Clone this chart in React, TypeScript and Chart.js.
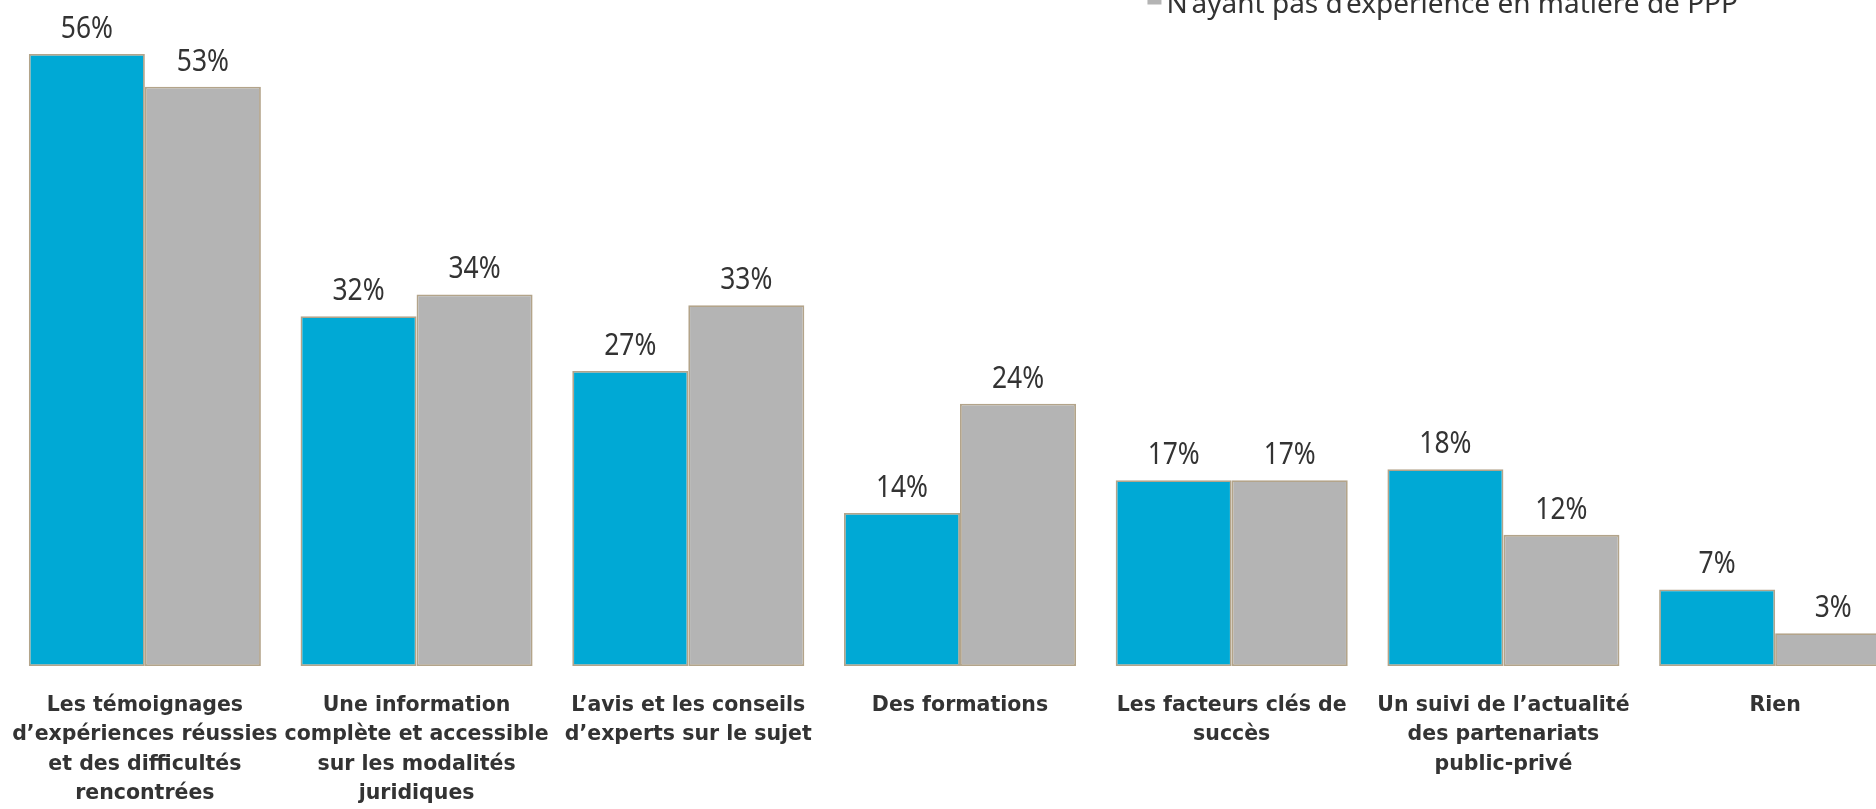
import React, { useEffect, useRef } from "react";
import { Chart, registerables } from "chart.js";

Chart.register(...registerables);

const categories: (string | string[])[] = [
  ["Les témoignages", "d’expériences réussies", "et des difficultés", "rencontrées"],
  ["Une information", "complète et accessible", "sur les modalités", "juridiques"],
  ["L’avis et les conseils", "d’experts sur le sujet"],
  "Des formations",
  ["Les facteurs clés de", "succès"],
  ["Un suivi de l’actualité", "des partenariats", "public-privé"],
  "Rien",
];
const seriesNames = [
  "Ayant une expérience en matière de PPP",
  "N’ayant pas d’expérience en matière de PPP",
];
const withExperience = [56, 32, 27, 14, 17, 18, 7];
const withoutExperience = [53, 34, 33, 24, 17, 12, 3];

const OFF = 60;
const W = 1940;
const H = 869;
const PX_PER_PCT = 10.93;
const Y_MAX = 60;
const BASE = 666;

const valueLabels = {
  id: "valueLabels",
  afterDatasetsDraw(chart: any) {
    const ctx = chart.ctx;
    chart.data.datasets.forEach((ds: any, i: number) => {
      chart.getDatasetMeta(i).data.forEach((bar: any, j: number) => {
        ctx.save();
        ctx.font = '30px "Noto Sans"';
        ctx.fillStyle = "#333333";
        ctx.textAlign = "center";
        ctx.textBaseline = "alphabetic";
        ctx.translate(bar.x, bar.y - 16);
        ctx.scale(0.88, 1);
        ctx.fillText(ds.data[j] + "%", 0, 0);
        ctx.restore();
      });
    });
  },
};

const customLegend = {
  id: "customLegend",
  afterDraw(chart: any) {
    const ctx = chart.ctx;
    ctx.save();
    ctx.font = '28px "Noto Sans"';
    ctx.textBaseline = "alphabetic";
    ctx.textAlign = "left";
    const lastText = chart.data.datasets[1].label;
    const w = ctx.measureText(lastText).width;
    const textX = 1738 - w;
    const ds = chart.data.datasets;
    ds.forEach((d: any, i: number) => {
      const baseline = OFF + 12.5 - (ds.length - 1 - i) * 38;
      ctx.fillStyle = d.backgroundColor;
      ctx.fillRect(textX - 19, baseline - 22, 14, 14);
      ctx.fillStyle = "#333333";
      ctx.fillText(d.label, textX, baseline);
    });
    ctx.restore();
  },
};

export default function App() {
  const ref = useRef<HTMLCanvasElement>(null);
  useEffect(() => {
    if (!ref.current) return;
    const chart = new Chart(ref.current, {
      type: "bar",
      data: {
        labels: categories,
        datasets: [
          {
            label: seriesNames[0],
            data: withExperience,
            backgroundColor: "#00A9D5",
            borderColor: "#B3A48A",
            borderWidth: 1.8,
            borderSkipped: false,
          },
          {
            label: seriesNames[1],
            data: withoutExperience,
            backgroundColor: "#B4B4B4",
            borderColor: "#B3A48A",
            borderWidth: 1.8,
            borderSkipped: false,
          },
        ],
      },
      options: {
        responsive: false,
        animation: false,
        devicePixelRatio: 1,
        layout: {
          padding: {
            left: 9,
            right: W - 1911,
            top: OFF + BASE - Y_MAX * PX_PER_PCT,
            bottom: 0,
          },
        },
        plugins: {
          legend: { display: false },
          tooltip: { enabled: false },
        },
        datasets: {
          bar: { categoryPercentage: 0.854, barPercentage: 1 },
        },
        scales: {
          y: { display: false, min: 0, max: Y_MAX },
          x: {
            grid: { display: false, drawTicks: true, tickLength: 25 },
            border: { display: false },
            afterFit: (scale: any) => {
              scale.height = H - (OFF + BASE);
            },
            ticks: {
              autoSkip: false,
              maxRotation: 0,
              minRotation: 0,
              padding: 0,
              color: "#333333",
              font: { family: '"DejaVu Sans"', weight: "bold", size: 20.5, lineHeight: 1.43 },
            },
          },
        },
      },
      plugins: [valueLabels, customLegend],
    });
    return () => chart.destroy();
  }, []);
  return (
    <div
      style={{
        position: "fixed",
        left: 0,
        top: 0,
        width: 1876,
        height: 809,
        overflow: "hidden",
        background: "#ffffff",
      }}
    >
      <canvas
        ref={ref}
        width={W}
        height={H}
        style={{ position: "absolute", left: 0, top: -OFF, width: W, height: H }}
      />
    </div>
  );
}
